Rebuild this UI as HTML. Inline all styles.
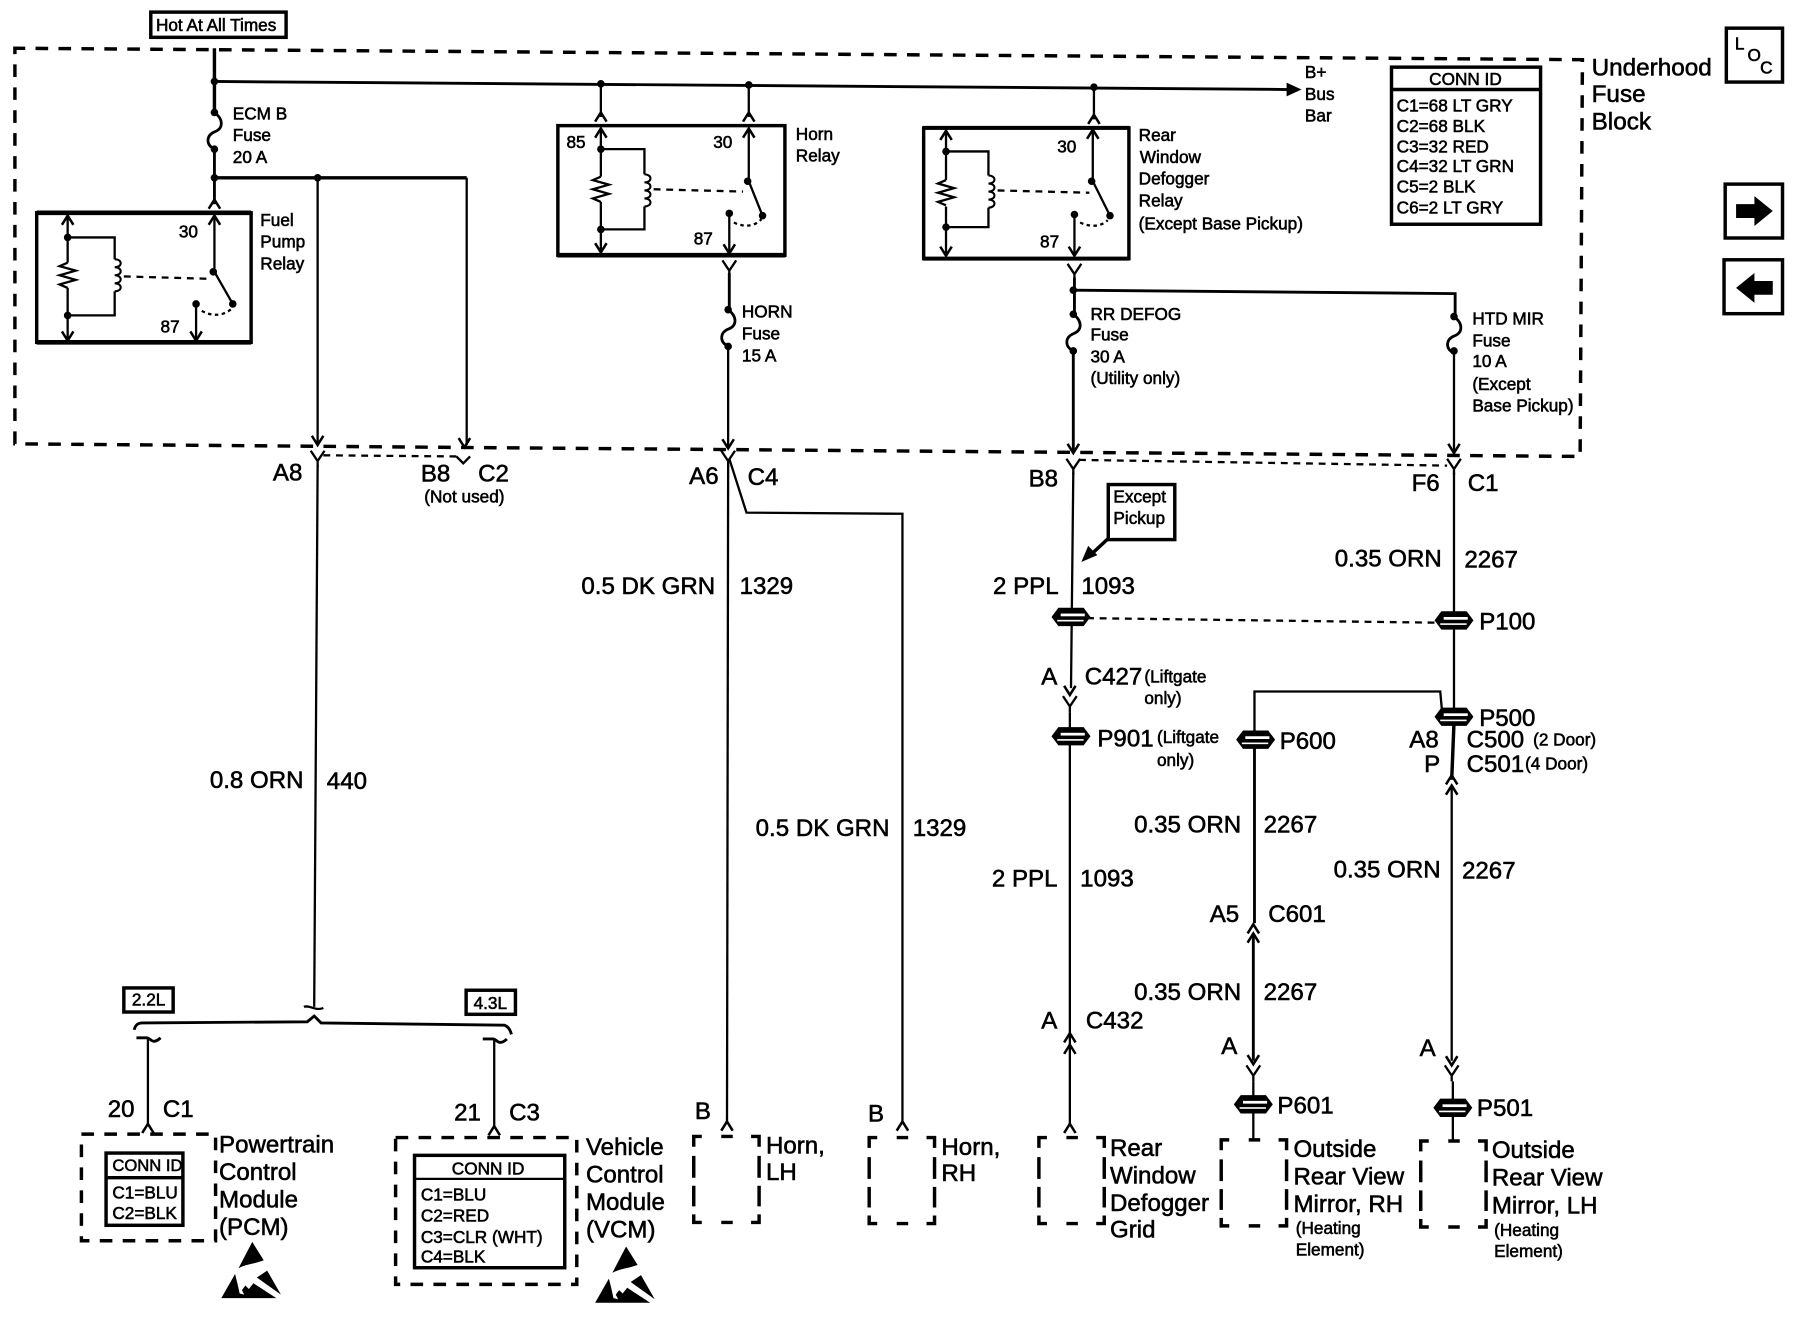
<!DOCTYPE html>
<html><head><meta charset="utf-8"><title>Wiring diagram</title>
<style>
html,body{margin:0;padding:0;background:#fff}
svg{display:block}
text{font-family:"Liberation Sans",sans-serif;fill:#000;stroke:#000;stroke-width:.5}
.s{font-size:15px}.x{font-size:15px}.m{font-size:21px}.l{font-size:21.2px}
.w{fill:none;stroke:#000;stroke-width:2}
.t2{fill:none;stroke:#000;stroke-width:2.5}
.t{fill:none;stroke:#000;stroke-width:3}
.d{fill:none;stroke:#000;stroke-width:3;stroke-dasharray:11 9}
.dt{fill:none;stroke:#000;stroke-width:2;stroke-dasharray:6 5}
</style></head><body>
<svg width="1798" height="1328" viewBox="0 0 1568 1158" xmlns="http://www.w3.org/2000/svg">
<defs>
<path id="au" d="M-5 8L0 0L5 8" fill="none" stroke="#000" stroke-width="2.2"/>
<path id="ad" d="M-5 -8L0 0L5 -8" fill="none" stroke="#000" stroke-width="2.2"/>
<path id="cy" d="M-6 -6L0 3L6 -6M0 3V8" fill="none" stroke="#000" stroke-width="2"/>
<path id="ca" d="M-5 5L0 -3L5 5" fill="none" stroke="#000" stroke-width="2.2"/>
<circle id="dot" r="3.3" fill="#000"/>
<path id="fuse" d="M0 0C8 6 8 14 0 17C-7 20 -8 28 0 32" fill="none" stroke="#000" stroke-width="2.4"/>
<g id="spl"><path d="M-17 0L-11 -8H11L17 0L11 8H-11Z" fill="#000"/><rect x="-9" y="-3" width="21" height="2.4" fill="#fff"/><rect x="-12" y="2.5" width="23" height="1.4" fill="#fff"/></g>
<path id="res" d="M0 0L-7 3L7 7L-7 11L7 15L-7 19L0 22" fill="none" stroke="#000" stroke-width="2"/>
<path id="coil" d="M0 0C7 0 7 7 0 7C7 7 7 14 0 14C7 14 7 21 0 21C7 21 7 28 0 28" fill="none" stroke="#000" stroke-width="1.8"/>
<g id="esd"><path d="M27 0L37 16C30 19 22 19 15 23Z" fill="#000"/><path d="M31 31L40 25L52 46Z" fill="#000"/><path d="M12 28L0 49H48L28 36L24 41L21 38L18 42L20 46L16 45L14 36Z" fill="#000"/></g>
<path id="dbox" d="M0 9V0H7M24 0H34M50 0H57V9M0 17V36M0 43V61M0 68V75H7M24 75H34M50 75H57V68M57 17V36M57 43V61" fill="none" stroke="#000" stroke-width="3"/>
</defs>

<!-- Hot box -->
<rect x="131.500" y="10.500" width="118" height="22" class="t"/>
<text x="136" y="27" class="s">Hot At All Times</text>

<!-- fuse block dashed outline -->
<path d="M13 44V42L1380 52L1378 398L13 387V44" class="d"/>

<!-- bus -->
<path d="M187 42V98" class="t"/>
<path d="M187 130V178" class="t2"/>
<path d="M187 71L1125 78" class="t2"/>
<path d="M1122 72L1135 78L1122 84Z" fill="#000"/>
<use href="#dot" x="187" y="71"/><use href="#dot" x="524" y="73"/><use href="#dot" x="653" y="74"/><use href="#dot" x="954" y="76"/>
<use href="#dot" x="187" y="98"/><use href="#fuse" x="187" y="98"/><use href="#dot" x="187" y="130"/>
<use href="#dot" x="187" y="155"/><use href="#ca" x="187" y="177"/>
<path d="M187 155H407" class="t"/>
<path d="M407 155V388" class="w"/>
<path d="M277 155V386" class="w"/><use href="#dot" x="277" y="155"/>
<use href="#ad" x="277" y="388"/><use href="#ad" x="405" y="390"/>
<path d="M524 73V102M653 74V102M954 76V104" class="w"/>
<use href="#ca" x="524" y="101"/><use href="#ca" x="653" y="101"/><use href="#ca" x="954" y="103"/>
<text x="203" y="104" class="s">ECM B</text><text x="203" y="123" class="s">Fuse</text><text x="203" y="142" class="s">20 A</text>
<text x="1138" y="68" class="s">B+</text><text x="1138" y="87" class="s">Bus</text><text x="1138" y="106" class="s">Bar</text>

<!-- fuel pump relay -->
<rect x="32" y="185.500" width="187" height="113" class="t"/>
<path d="M32 298.500H219M32 185.500H219" stroke="#000" stroke-width="4"/>
<path d="M59 190V229M59 251V295M59 207H100V226M100 254V275H59" class="w"/>
<use href="#res" x="59" y="229"/><use href="#coil" x="100" y="226"/>
<use href="#au" x="59" y="188"/><use href="#ad" x="59" y="297"/>
<use href="#dot" x="59" y="207"/><use href="#dot" x="59" y="275"/>
<path d="M108 241L180 243" class="dt"/>
<path d="M187 188V237L203 265" class="w"/><use href="#au" x="187" y="188"/>
<use href="#dot" x="186" y="237"/><use href="#dot" x="203" y="265"/>
<path d="M171 265V297" class="w"/><use href="#dot" x="171" y="265"/><use href="#ad" x="171" y="297"/>
<path d="M176 271C184 276 196 276 203 268" fill="none" stroke="#000" stroke-width="2" stroke-dasharray="3 3"/>
<text x="156" y="207" class="x">30</text><text x="140" y="290" class="x">87</text>
<text x="227" y="197" class="s">Fuel</text><text x="227" y="216" class="s">Pump</text><text x="227" y="235" class="s">Relay</text>

<!-- horn relay -->
<rect x="486.500" y="109.500" width="198" height="113" class="t"/>
<path d="M486 222.500H685" stroke="#000" stroke-width="4"/>
<path d="M524 112V154M524 176V220M524 130H562V152M562 180V200H524" class="w"/>
<use href="#res" x="524" y="154"/><use href="#coil" x="562" y="152"/>
<use href="#au" x="524" y="112"/><use href="#ad" x="524" y="220"/>
<use href="#dot" x="524" y="130"/><use href="#dot" x="524" y="200"/>
<path d="M570 165L648 167" class="dt"/>
<path d="M653 112V158L665 188" class="w"/><use href="#au" x="653" y="112"/>
<use href="#dot" x="652" y="158"/><use href="#dot" x="665" y="188"/>
<path d="M636 186V221" class="w"/><use href="#dot" x="636" y="186"/><use href="#ad" x="636" y="221"/>
<path d="M640 194C648 198 658 198 664 191" fill="none" stroke="#000" stroke-width="2" stroke-dasharray="3 3"/>
<text x="494" y="129" class="x">85</text><text x="622" y="129" class="x">30</text><text x="605" y="213" class="x">87</text>
<text x="694" y="122" class="s">Horn</text><text x="694" y="141" class="s">Relay</text>
<use href="#cy" x="636" y="233"/>
<path d="M636 238V270" class="t2"/><use href="#dot" x="635" y="270"/><use href="#fuse" x="635" y="270"/><use href="#dot" x="635" y="302"/>
<path d="M635 302V390" class="w"/><use href="#ad" x="635" y="391"/>
<text x="647" y="277" class="s">HORN</text><text x="647" y="296" class="s">Fuse</text><text x="647" y="315" class="s">15 A</text>

<!-- defog relay -->
<rect x="805.500" y="111.500" width="179" height="114" class="t"/>
<path d="M805 225.500H985M805 111.500H985" stroke="#000" stroke-width="3.500"/>
<path d="M825 114V157M825 180V223M825 132H862V153M862 181V198H825" class="w"/>
<use href="#res" x="825" y="157"/><use href="#coil" x="862" y="153"/>
<use href="#au" x="825" y="114"/><use href="#ad" x="825" y="223"/>
<use href="#dot" x="825" y="132"/><use href="#dot" x="825" y="198"/>
<path d="M870 166L950 168" class="dt"/>
<path d="M953 113V158L968 188" class="w"/><use href="#au" x="953" y="113"/>
<use href="#dot" x="952" y="158"/><use href="#dot" x="968" y="188"/>
<use href="#dot" x="937" y="187"/><path d="M937 187V223" class="w"/><use href="#ad" x="937" y="223"/>
<path d="M942 194C950 198 960 198 966 192" fill="none" stroke="#000" stroke-width="2" stroke-dasharray="3 3"/>
<text x="922" y="133" class="x">30</text><text x="907" y="216" class="x">87</text>
<text x="993" y="123" class="s">Rear</text><text x="994" y="142" class="s">Window</text><text x="993" y="161" class="s">Defogger</text><text x="993" y="180" class="s">Relay</text><text x="993" y="200" class="x">(Except Base Pickup)</text>
<use href="#cy" x="937" y="236"/>
<path d="M937 242V274" class="t2"/><use href="#dot" x="936" y="253"/>
<path d="M936 253L1269 256V276" class="t2"/>
<use href="#dot" x="936" y="274"/><use href="#fuse" x="936" y="274"/><use href="#dot" x="936" y="306"/>
<path d="M936 306V393" class="t2"/><use href="#ad" x="936" y="395"/>
<use href="#dot" x="1268" y="276"/><use href="#fuse" x="1268" y="276"/><use href="#dot" x="1268" y="306"/>
<path d="M1268 306V393" class="w"/><use href="#ad" x="1268" y="395"/>
<text x="951" y="279" class="s">RR DEFOG</text><text x="951" y="297" class="s">Fuse</text><text x="951" y="316" class="s">30 A</text><text x="951" y="335" class="x">(Utility only)</text>
<text x="1284" y="283" class="s">HTD MIR</text><text x="1284" y="302" class="s">Fuse</text><text x="1284" y="320" class="s">10 A</text><text x="1284" y="340" class="x">(Except</text><text x="1284" y="359" class="x">Base Pickup)</text>

<!-- CONN ID top right -->
<rect x="1213.500" y="58.500" width="130" height="137" class="t"/>
<path d="M1213 78H1344" class="t"/>
<text x="1278" y="74" class="s" text-anchor="middle">CONN ID</text>
<text x="1218" y="97" class="s">C1=68 LT GRY</text><text x="1218" y="115" class="s">C2=68 BLK</text><text x="1218" y="133" class="s">C3=32 RED</text><text x="1218" y="150" class="s">C4=32 LT GRN</text><text x="1218" y="168" class="s">C5=2 BLK</text><text x="1218" y="186" class="s">C6=2 LT GRY</text>
<text x="1388" y="66" class="l">Underhood</text><text x="1388" y="89" class="l">Fuse</text><text x="1388" y="113" class="l">Block</text>

<!-- nav boxes -->
<rect x="1505.500" y="24.500" width="49" height="47" class="t"/>
<text x="1513" y="43" class="x">L</text><text x="1524" y="53" class="x">O</text><text x="1535" y="64" class="x">C</text>
<rect x="1504.500" y="160.500" width="50" height="47" class="t"/>
<path d="M1514 178H1530V171L1546 184L1530 197V190H1514Z" fill="#000"/>
<rect x="1503.500" y="226.500" width="51" height="47" class="t"/>
<path d="M1546 245H1530V238L1514 251L1530 264V257H1546Z" fill="#000"/>

<!-- below block -->
<path d="M282 397L399 398" class="dt"/>
<use href="#cy" x="277" y="399"/><path d="M398 398L404 404L410 398" class="w"/>
<path d="M277 406L274 878" class="w"/>
<path d="M265 878C270 876 275 882 282 879" class="w"/>
<text x="238" y="419" class="m">A8</text><text x="367" y="420" class="m">B8</text><text x="417" y="420" class="m">C2</text><text x="370" y="438" class="x">(Not used)</text>
<text x="183" y="687" class="m">0.8 ORN</text><text x="285" y="688" class="m">440</text>

<use href="#cy" x="635" y="399"/>
<path d="M635 406L634 979" class="w"/>
<path d="M636 400L651 447L787 448V978" class="w"/>
<use href="#ca" x="634" y="981"/><use href="#ca" x="787" y="981"/>
<text x="601" y="422" class="m">A6</text><text x="652" y="423" class="m">C4</text>
<text x="507" y="518" class="m">0.5 DK GRN</text><text x="645" y="518" class="m">1329</text>
<text x="659" y="729" class="m">0.5 DK GRN</text><text x="796" y="729" class="m">1329</text>
<text x="606" y="976" class="m">B</text><text x="757" y="978" class="m">B</text>

<use href="#dbox" x="605" y="991"/>
<use href="#dbox" x="758" y="992"/>
<text x="668" y="1006" class="m">Horn,</text><text x="668" y="1029" class="m">LH</text>
<text x="821" y="1007" class="m">Horn,</text><text x="821" y="1030" class="m">RH</text>

<!-- brace -->
<rect x="108" y="861.500" width="43" height="21" class="t"/><text x="115" y="877" class="x">2.2L</text>
<rect x="406.500" y="863.500" width="43" height="21" class="t"/><text x="413" y="880" class="x">4.3L</text>
<path d="M117 898C118 894 120 892 124 892L268 891L274 886L280 892L440 894C443 895 445 898 446 902" class="t2"/>
<path d="M119 905H128C130 905 132 908 134 908C136 908 138 907 140 905M421 906H430C432 906 434 909 436 909C438 909 440 908 442 906" class="t2"/>
<path d="M129 905V980M431 906V982" class="w"/>
<use href="#ca" x="129" y="983"/><use href="#ca" x="431" y="985"/>
<text x="94" y="974" class="m">20</text><text x="142" y="974" class="m">C1</text>
<text x="396" y="977" class="m">21</text><text x="444" y="977" class="m">C3</text>

<!-- PCM -->
<path d="M71 989H188V1082H71Z" class="d"/>
<rect x="92.500" y="1005.500" width="67" height="63" class="t"/>
<path d="M92 1027H160" class="t"/>
<text x="98" y="1021" style="font-size:14.500px">CONN ID</text><text x="98" y="1045" class="x">C1=BLU</text><text x="98" y="1063" class="x">C2=BLK</text>
<text x="191" y="1005" class="m">Powertrain</text><text x="191" y="1029" class="m">Control</text><text x="191" y="1053" class="m">Module</text><text x="191" y="1077" class="m">(PCM)</text>
<use href="#esd" x="193" y="1083"/>

<!-- VCM -->
<path d="M345 992H503V1120H345Z" class="d"/>
<rect x="361.500" y="1007.500" width="131" height="98" class="t"/>
<path d="M361 1028H492" class="w"/>
<text x="394" y="1024" class="s">CONN ID</text><text x="367" y="1047" class="x">C1=BLU</text><text x="367" y="1065" class="x">C2=RED</text><text x="367" y="1084" class="x">C3=CLR (WHT)</text><text x="367" y="1101" class="x">C4=BLK</text>
<text x="511" y="1007" class="m">Vehicle</text><text x="511" y="1031" class="m">Control</text><text x="511" y="1055" class="m">Module</text><text x="511" y="1079" class="m">(VCM)</text>
<use href="#esd" x="519" y="1087"/>

<!-- defog circuit -->
<use href="#cy" x="936" y="406"/>
<path d="M941 401L1262 406" class="dt"/>
<path d="M936 412L934 600" class="w"/>
<use href="#ad" x="933" y="606"/><use href="#cy" x="933" y="613"/>
<use href="#spl" x="934" y="538"/>
<path d="M933 621V982" class="w"/>
<use href="#spl" x="934" y="642"/>
<use href="#ca" x="933" y="904"/><use href="#au" x="933" y="911"/><use href="#ca" x="933" y="983"/>
<rect x="966.500" y="422.500" width="58" height="48" class="t"/>
<text x="971" y="438" class="x">Except</text><text x="971" y="457" class="x">Pickup</text>
<path d="M966 470L951 484" class="t"/><path d="M943 490L957 484L949 476Z" fill="#000"/>
<text x="897" y="424" class="m">B8</text><text x="866" y="518" class="m">2 PPL</text><text x="943" y="518" class="m">1093</text>
<path d="M948 539L1255 543" class="dt"/>
<text x="908" y="597" class="m">A</text><text x="946" y="597" class="m">C427</text>
<text x="998" y="595" class="x">(Liftgate</text><text x="998" y="614" class="x">only)</text>
<text x="957" y="651" class="m">P901</text><text x="1009" y="648" class="x">(Liftgate</text><text x="1009" y="668" class="x">only)</text>
<text x="865" y="773" class="m">2 PPL</text><text x="942" y="773" class="m">1093</text>
<text x="908" y="897" class="m">A</text><text x="947" y="897" class="m">C432</text>

<!-- mirror circuit -->
<use href="#cy" x="1268" y="406"/>
<path d="M1268 412V620" class="w"/>
<use href="#spl" x="1268" y="541"/>
<path d="M1258 625L1256 603H1094V640" class="w"/>
<path d="M1094 640V805" class="t2"/>
<use href="#spl" x="1095" y="645"/>
<use href="#spl" x="1268" y="625"/>
<path d="M1268 630L1266 680" class="t"/>
<use href="#ca" x="1266" y="679"/><use href="#au" x="1266" y="685"/>
<path d="M1266 686V925" class="w"/>
<use href="#ad" x="1266" y="929"/><use href="#cy" x="1266" y="935"/>
<path d="M1267 943V995" class="w"/><use href="#spl" x="1267" y="966"/>
<use href="#ca" x="1093" y="809"/><use href="#au" x="1093" y="814"/>
<path d="M1093 814V925" class="t2"/>
<use href="#ad" x="1093" y="928"/><use href="#cy" x="1093" y="935"/>
<path d="M1093 943V995" class="w"/><use href="#spl" x="1093" y="963"/>
<text x="1231" y="428" class="m">F6</text><text x="1280" y="428" class="m">C1</text>
<text x="1164" y="494" class="m">0.35 ORN</text><text x="1277" y="495" class="m">2267</text>
<text x="1290" y="549" class="m">P100</text><text x="1290" y="633" class="m">P500</text>
<text x="1116" y="653" class="m">P600</text>
<text x="1229" y="652" class="m">A8</text><text x="1279" y="652" class="m">C500</text><text x="1337" y="650" class="x">(2 Door)</text>
<text x="1242" y="673" class="m">P</text><text x="1279" y="673" class="m">C501</text><text x="1330" y="671" class="x">(4 Door)</text>
<text x="989" y="726" class="m">0.35 ORN</text><text x="1102" y="726" class="m">2267</text>
<text x="1163" y="765" class="m">0.35 ORN</text><text x="1275" y="766" class="m">2267</text>
<text x="1055" y="804" class="m">A5</text><text x="1106" y="804" class="m">C601</text>
<text x="989" y="872" class="m">0.35 ORN</text><text x="1102" y="872" class="m">2267</text>
<text x="1065" y="919" class="m">A</text><text x="1238" y="921" class="m">A</text>
<text x="1114" y="971" class="m">P601</text><text x="1288" y="973" class="m">P501</text>

<!-- bottom loads -->
<use href="#dbox" x="906" y="992"/>
<use href="#dbox" x="1065" y="994"/>
<use href="#dbox" x="1239" y="995"/>
<text x="968" y="1008" class="m">Rear</text><text x="968" y="1032" class="m">Window</text><text x="968" y="1056" class="m">Defogger</text><text x="968" y="1079" class="m">Grid</text>
<text x="1128" y="1009" class="m">Outside</text><text x="1128" y="1033" class="m">Rear View</text><text x="1128" y="1057" class="m">Mirror, RH</text><text x="1130" y="1076" class="x">(Heating</text><text x="1130" y="1095" class="x">Element)</text>
<text x="1301" y="1010" class="m">Outside</text><text x="1301" y="1034" class="m">Rear View</text><text x="1301" y="1058" class="m">Mirror, LH</text><text x="1303" y="1078" class="x">(Heating</text><text x="1303" y="1096" class="x">Element)</text>
</svg>
</body></html>
